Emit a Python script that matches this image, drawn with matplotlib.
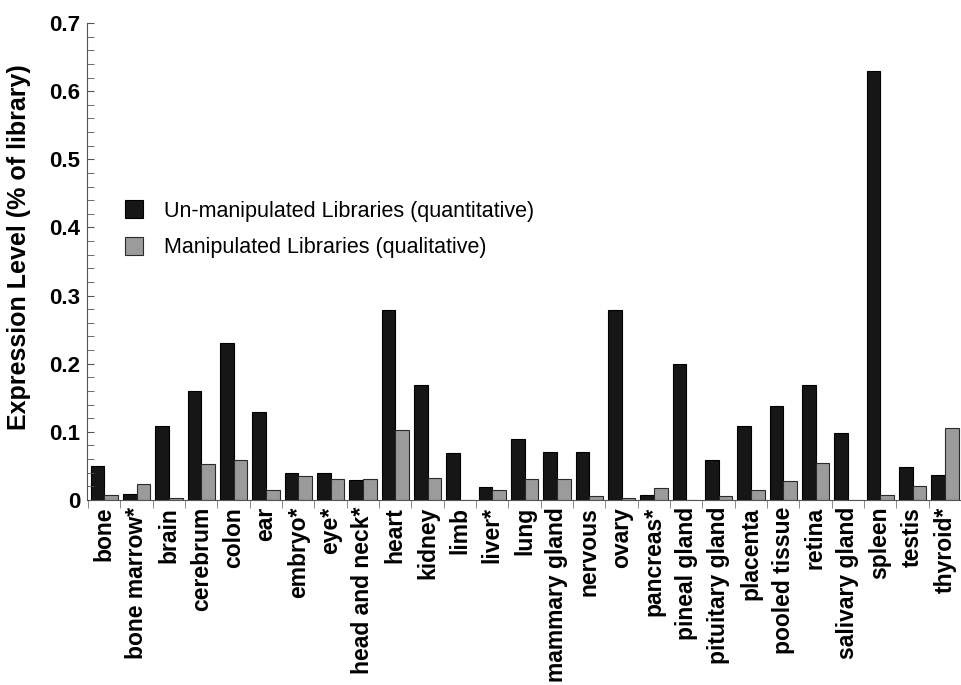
import numpy as np
import matplotlib.pyplot as plt
from matplotlib.ticker import MultipleLocator, FixedLocator

tissues = ["bone", "bone marrow*", "brain", "cerebrum", "colon", "ear", "embryo*", "eye*",
           "head and neck*", "heart", "kidney", "limb", "liver*", "lung", "mammary gland",
           "nervous", "ovary", "pancreas*", "pineal gland", "pituitary gland", "placenta",
           "pooled tissue", "retina", "salivary gland", "spleen", "testis", "thyroid*"]

unmanipulated = [0.050, 0.009, 0.109, 0.160, 0.230, 0.129, 0.039, 0.039, 0.029, 0.279,
                 0.169, 0.069, 0.019, 0.089, 0.070, 0.070, 0.279, 0.008, 0.199, 0.059,
                 0.109, 0.138, 0.169, 0.099, 0.630, 0.049, 0.037]

manipulated = [0.008, 0.023, 0.003, 0.053, 0.059, 0.014, 0.035, 0.031, 0.031, 0.103,
               0.033, 0.0, 0.015, 0.031, 0.031, 0.006, 0.003, 0.017, 0.0, 0.006,
               0.015, 0.028, 0.054, 0.0, 0.008, 0.021, 0.106]

plt.rcParams["font.family"] = ["Liberation Sans", "DejaVu Sans"]

fig = plt.figure(figsize=(9.61, 6.85), dpi=100)
ax = fig.add_axes([87 / 961, 185 / 685, 874 / 961, 477 / 685])

x = np.arange(len(tissues))
w = 0.42
ax.bar(x + 0.295, unmanipulated, w, color="#161616", edgecolor="#000000", linewidth=0.8,
       label="Un-manipulated Libraries (quantitative)")
ax.bar(x + 0.715, manipulated, w, color="#9b9b9b", edgecolor="#2a2a2a", linewidth=0.8,
       label="Manipulated Libraries (qualitative)")

ax.set_xlim(-0.03, len(tissues))
ax.set_ylim(0, 0.7)

ax.spines["top"].set_visible(False)
ax.spines["right"].set_visible(False)
ax.spines["left"].set_color("#555555")
ax.spines["bottom"].set_color("#555555")

# y axis
ax.yaxis.set_major_locator(MultipleLocator(0.1))
ax.yaxis.set_minor_locator(MultipleLocator(0.02))
ax.set_yticks(np.arange(0, 0.71, 0.1))
ax.set_yticklabels(["0", "0.1", "0.2", "0.3", "0.4", "0.5", "0.6", "0.7"])
ax.tick_params(axis="y", which="both", direction="in", length=5, color="#555555",
               labelsize=16, pad=5)
for t in ax.get_yticklabels():
    t.set_fontweight("bold")

# x axis: labels at group centres, tick marks at group boundaries
ax.set_xticks(x + 0.5)
ax.set_xticklabels(tissues, rotation=90, fontsize=16.5, fontweight="bold")
ax.xaxis.set_minor_locator(FixedLocator(np.arange(0, len(tissues) + 1)))
ax.tick_params(axis="x", which="major", length=0, pad=5)
ax.tick_params(axis="x", which="minor", direction="out", length=6, color="#777777")

ax.set_ylabel("Expression Level (% of library)", fontsize=18, fontweight="bold")
ax.yaxis.set_label_coords(-0.064, 0.53)

ax.legend(loc="upper left", bbox_to_anchor=(0.043, 0.628), frameon=False, fontsize=15.5,
          handlelength=0.85, handleheight=0.9, handletextpad=1.0, labelspacing=0.7,
          borderpad=0, borderaxespad=0)

fig.savefig("out.png", dpi=100)
